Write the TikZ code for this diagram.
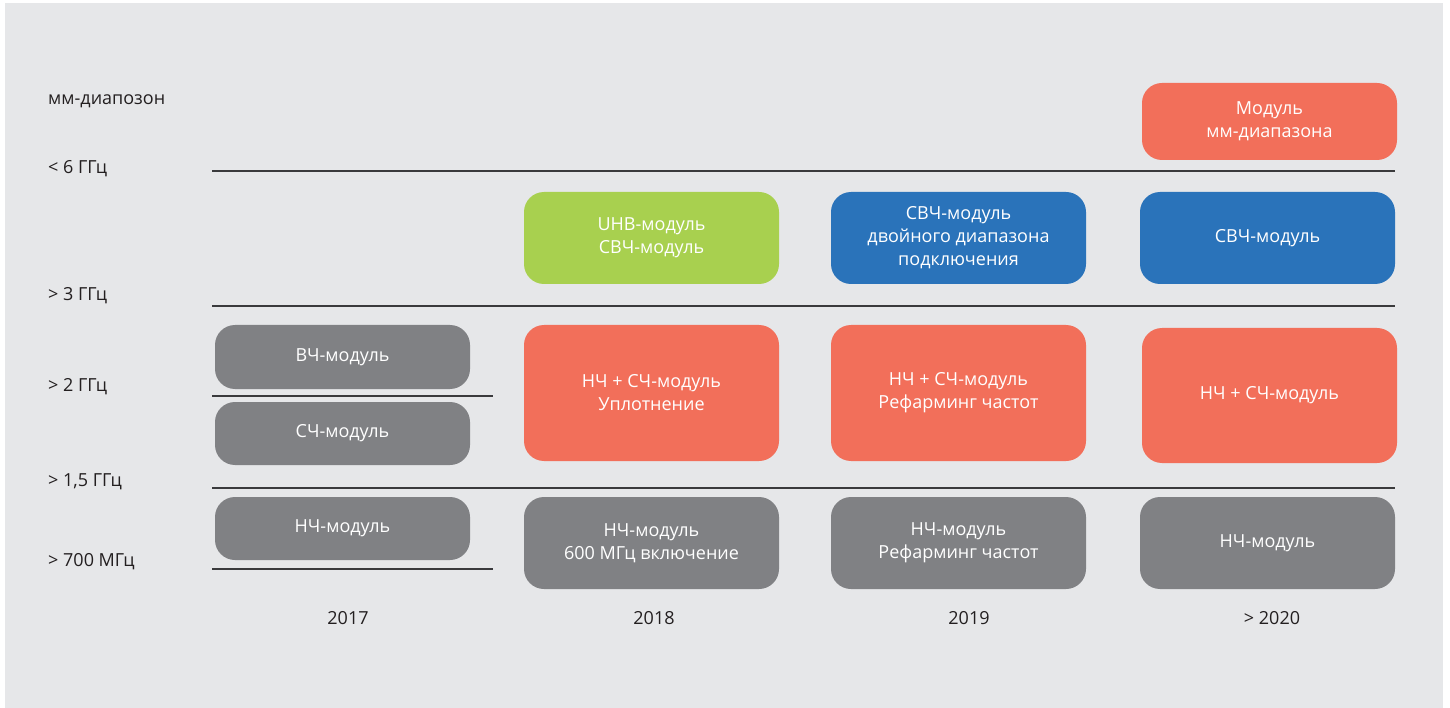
\documentclass[tikz,border=0pt]{standalone}
\usepackage{fontspec}
\setmainfont{Open Sans}
\usetikzlibrary{positioning}
\definecolor{bggray}{HTML}{E6E7E9}
\definecolor{modgray}{HTML}{808184}
\definecolor{modred}{HTML}{F26F5A}
\definecolor{modgreen}{HTML}{A8D04F}
\definecolor{modblue}{HTML}{2A73BA}
\definecolor{inkdark}{HTML}{231F20}
\definecolor{rulegray}{HTML}{3A3A3C}
\tikzset{
  modbox/.style = {rounded corners=20pt, inner sep=0, minimum width=255pt, text=white, align=center, font=\fontsize{18}{23}\selectfont},
  bandlabel/.style = {anchor=mid west, inner sep=0, text=inkdark, font=\fontsize{18}{22}\selectfont},
  yearlabel/.style = {anchor=mid, inner sep=0, text=inkdark, font=\fontsize{18}{22}\selectfont},
  bandrule/.style = {draw=rulegray, line width=1.3pt},
}

\begin{document}
\begin{tikzpicture}[x=1pt, y=-1pt]
        \useasboundingbox (0,0) rectangle (1450,708);
        \fill [bggray] (5,3) rectangle (1443,708);

        % band borders
        \draw [bandrule] (212,171) -- (1395,171);
        \draw [bandrule] (212,306) -- (1395,306);
        \draw [bandrule] (212,488) -- (1395,488);
        \draw [bandrule] (212,396) -- (493,396);
        \draw [bandrule] (212,569) -- (493,569);

        % frequency bands
        \foreach \N/\y/\t in {
          mmw/102/мм-диапозон,
          sub6/171/< 6 ГГц,
          three/298/> 3 ГГц,
          two/389/> 2 ГГц,
          onefive/484/{> 1,5 ГГц},
          sevenh/564/> 700 МГц%
        }{
          \node (band\N) [bandlabel] at (48,\y) {\t};
        }

        % modules
        \foreach \N/\x/\y/\h/\c/\t in {
          hfA/342.5/357/64/modgray/ВЧ-модуль,
          mfA/342.5/433.5/63/modgray/СЧ-модуль,
          lfA/342.5/528.5/63/modgray/НЧ-модуль,
          shfB/651.5/238/92/modgreen/{UHB-модуль\\СВЧ-модуль},
          midB/651.5/393/136/modred/{НЧ + СЧ-модуль\\Уплотнение},
          lfB/651.5/543/92/modgray/{НЧ-модуль\\600 МГц включение},
          shfC/958.5/238/92/modblue/{СВЧ-модуль\\двойного диапазона\\подключения},
          midC/958.5/393/136/modred/{НЧ + СЧ-модуль\\Рефарминг частот},
          lfC/958.5/543/92/modgray/{НЧ-модуль\\Рефарминг частот},
          mmwD/1269.5/121.5/77/modred/{Модуль\\мм-диапазона},
          shfD/1267.5/238/92/modblue/СВЧ-модуль,
          midD/1269.5/395.5/135/modred/НЧ + СЧ-модуль,
          lfD/1267.5/543/92/modgray/НЧ-модуль%
        }{
          \node (\N) [modbox, fill=\c, minimum height=\h] at (\x,\y) {\t};
        }

        % years
        \node (yearA) [yearlabel] at (348,622) {2017};
        \node (yearB) [yearlabel] at (654,622) {2018};
        \node (yearC) [yearlabel] at (969,622) {2019};
        \node (yearD) [yearlabel] at (1272,622) {> 2020};
      \end{tikzpicture}
\end{document}
